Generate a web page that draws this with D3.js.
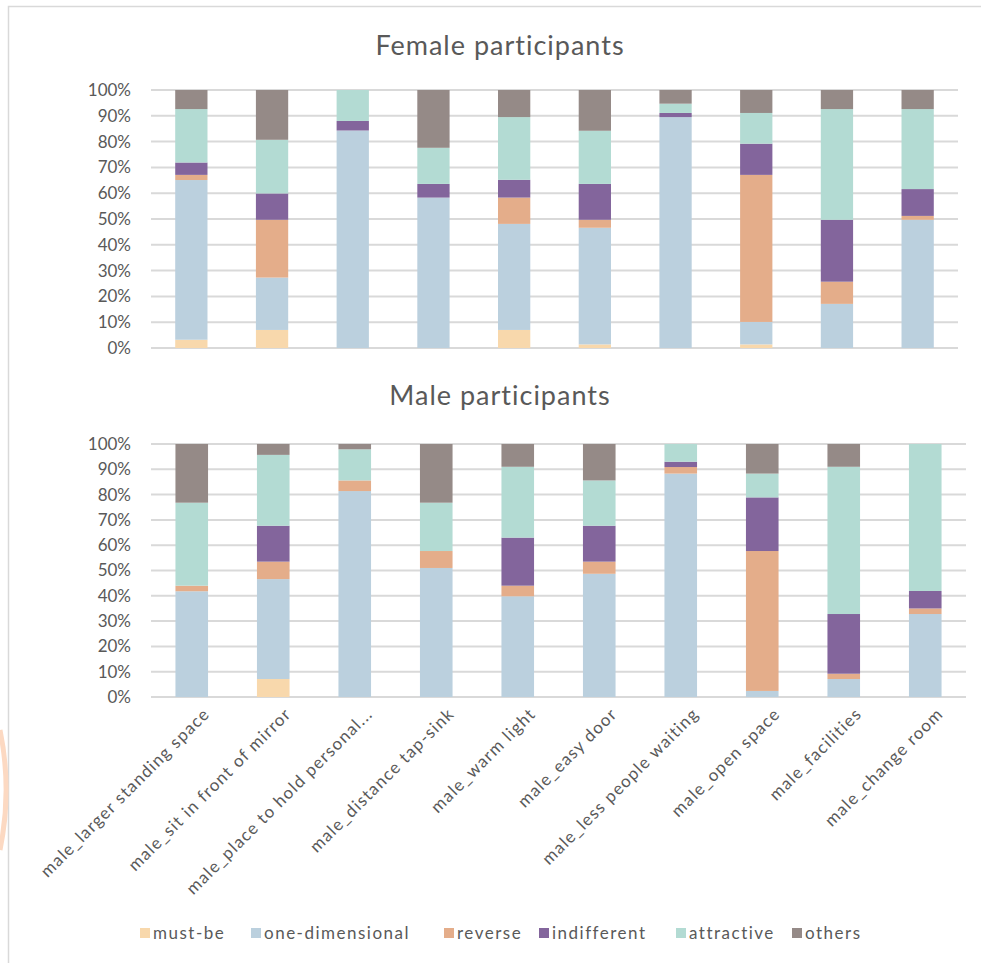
<!DOCTYPE html>
<html>
<head>
<meta charset="utf-8">
<script src="https://cdn.jsdelivr.net/npm/d3@7/dist/d3.min.js"></script>
<style>
  html, body { margin: 0; padding: 0; background: #fff; }
  svg { display: block; }
  text { font-family: Lato, "Open Sans", sans-serif; fill: #595959; }
</style>
</head>
<body>
<svg id="chart" width="981" height="963"></svg>
<script>
// Kano categories (stack order, bottom to top)
const seriesNames = ["must-be", "one-dimensional", "reverse", "indifferent", "attractive", "others"];
const seriesColors = ["#f8d8ac", "#bbd0de", "#e4ad8a", "#83659c", "#b3dbd3", "#958a87"];

// Requirement labels shared by both panels
const categories = [
  "male_larger standing space",
  "male_sit in front of mirror",
  "male_place to hold personal...",
  "male_distance tap-sink",
  "male_warm light",
  "male_easy door",
  "male_less people waiting",
  "male_open space",
  "male_facilities",
  "male_change room"
];

// Percentages per requirement, female respondents
const femaleMustBe      = [3.2, 7.0, 0.0, 0.0, 7.0, 1.4, 0.0, 1.4, 0.0, 0.0];
const femaleOneDim      = [61.9, 20.3, 84.3, 58.3, 41.1, 45.2, 89.5, 8.7, 17.1, 49.7];
const femaleReverse     = [2.0, 22.4, 0.0, 0.0, 10.2, 3.1, 0.0, 57.0, 8.6, 1.5];
const femaleIndifferent = [4.8, 10.2, 3.7, 5.3, 6.9, 13.9, 1.6, 12.1, 24.0, 10.4];
const femaleAttractive  = [20.7, 20.8, 12.0, 14.0, 24.3, 20.6, 3.6, 11.9, 42.9, 31.0];
const femaleOthers      = [7.4, 19.3, 0.0, 22.4, 10.5, 15.8, 5.3, 8.9, 7.4, 7.4];

// Percentages per requirement, male respondents
const maleMustBe      = [0.0, 7.1, 0.0, 0.0, 0.0, 0.0, 0.0, 0.0, 0.0, 0.0];
const maleOneDim      = [41.8, 39.5, 81.4, 51.0, 39.8, 48.7, 88.3, 2.4, 7.1, 32.8];
const maleReverse     = [2.2, 6.9, 4.2, 6.7, 4.2, 4.8, 2.6, 55.3, 2.1, 2.2];
const maleIndifferent = [0.0, 14.2, 0.0, 0.0, 19.0, 14.2, 2.1, 21.2, 23.6, 6.9];
const maleAttractive  = [32.8, 28.0, 12.3, 19.1, 28.0, 17.9, 7.0, 9.4, 58.2, 58.1];
const maleOthers      = [23.2, 4.3, 2.1, 23.2, 9.0, 14.4, 0.0, 11.7, 9.0, 0.0];

const yTicks = [0, 10, 20, 30, 40, 50, 60, 70, 80, 90, 100];
const yTickLabels = yTicks.map(d => d + "%");

const panelTitles = ["Female participants", "Male participants"];

function buildRows(cols) {
  return categories.map((c, i) => {
    const row = { category: c };
    seriesNames.forEach((s, k) => { row[s] = cols[k][i]; });
    return row;
  });
}

const femaleRows = buildRows([femaleMustBe, femaleOneDim, femaleReverse, femaleIndifferent, femaleAttractive, femaleOthers]);
const maleRows = buildRows([maleMustBe, maleOneDim, maleReverse, maleIndifferent, maleAttractive, maleOthers]);

const svg = d3.select("#chart");

// outer chart-area frame
svg.append("path")
  .attr("d", "M8.5,963 L8.5,6.5 L981,6.5")
  .attr("fill", "none")
  .attr("stroke", "#d9d9d9")
  .attr("stroke-width", 1.5);

// faint orange arc at the far left edge
svg.append("path")
  .attr("d", "M0,730 A300,300 0 0 1 0,850")
  .attr("fill", "none")
  .attr("stroke", "#fcd9c2")
  .attr("stroke-width", 5);

const color = d3.scaleOrdinal().domain(seriesNames).range(seriesColors);

function drawPanel(rows, title, box, showXLabels) {
  const g = svg.append("g");

  const x = d3.scaleBand()
    .domain(categories)
    .range([box.left, box.right])
    .paddingInner(0.6)
    .paddingOuter(0.3);

  const y = d3.scaleLinear().domain([0, 100]).range([box.bottom, box.top]);

  // title
  g.append("text")
    .attr("x", 500)
    .attr("y", box.titleY)
    .attr("text-anchor", "middle")
    .style("font-size", "27px")
    .style("letter-spacing", "1px")
    .text(title);

  // horizontal gridlines
  g.append("g")
    .selectAll("line")
    .data(yTicks)
    .join("line")
    .attr("x1", box.left)
    .attr("x2", box.right)
    .attr("y1", d => y(d))
    .attr("y2", d => y(d))
    .attr("stroke", "#d9d9d9")
    .attr("stroke-width", 2);

  // y axis labels
  const yAxis = d3.axisLeft(y)
    .tickValues(yTicks)
    .tickFormat((d, i) => yTickLabels[i])
    .tickSize(0)
    .tickPadding(0);
  const ya = g.append("g")
    .attr("transform", `translate(${box.left - 20},0)`)
    .call(yAxis);
  ya.select(".domain").remove();
  ya.selectAll("text")
    .style("font-size", "17px")
    .style("font-family", "Lato, 'Open Sans', sans-serif")
    .attr("fill", "#595959");

  // stacked bars
  const stack = d3.stack().keys(seriesNames);
  const layers = stack(rows);
  g.append("g")
    .selectAll("g")
    .data(layers)
    .join("g")
    .attr("fill", d => color(d.key))
    .selectAll("rect")
    .data(d => d)
    .join("rect")
    .attr("x", d => x(d.data.category))
    .attr("width", x.bandwidth())
    .attr("y", d => y(d[1]))
    .attr("height", d => Math.max(0, y(d[0]) - y(d[1])));

  if (showXLabels) {
    const xAxis = d3.axisBottom(x).tickSize(0).tickPadding(0);
    const xa = g.append("g")
      .attr("transform", `translate(0,${box.bottom})`)
      .call(xAxis);
    xa.select(".domain").remove();
    xa.selectAll("text")
      .attr("text-anchor", "end")
      .attr("dy", 0)
      .attr("transform", "translate(19,18) rotate(-45)")
      .style("font-size", "17px")
      .style("letter-spacing", "1.2px")
      .style("font-family", "Lato, 'Open Sans', sans-serif")
      .attr("fill", "#595959");
  }
}

drawPanel(femaleRows, panelTitles[0], { left: 151, right: 958, top: 90, bottom: 348, titleY: 55 }, false);
drawPanel(maleRows, panelTitles[1], { left: 151, right: 966, top: 444, bottom: 697, titleY: 405 }, true);

// legend
const legendX = [140, 251, 444, 539, 676, 792];
const legend = svg.append("g");
const items = legend.selectAll("g")
  .data(seriesNames)
  .join("g")
  .attr("transform", (d, i) => `translate(${legendX[i]},933)`);
items.append("rect")
  .attr("x", 0)
  .attr("y", -5)
  .attr("width", 10)
  .attr("height", 10)
  .attr("fill", d => color(d));
items.append("text")
  .attr("x", 13)
  .attr("y", 6)
  .style("font-size", "17px")
  .style("letter-spacing", "1.5px")
  .text(d => d);
</script>
</body>
</html>
